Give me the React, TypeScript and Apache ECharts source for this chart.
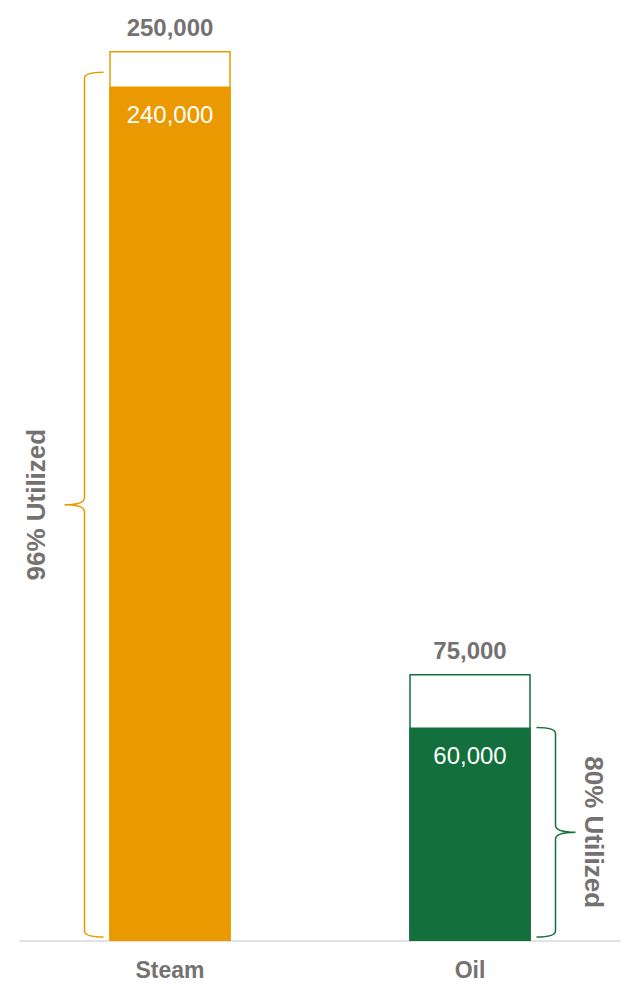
import React, { useEffect, useRef } from "react";
import * as echarts from "echarts";

const categories = ["Steam", "Oil"];
const capacity = [250000, 75000];
const utilized = [240000, 60000];
const bracketTop = [244000, 60000];
const utilizedText = ["96% Utilized", "80% Utilized"];
const colors = ["#EA9A00", "#13703C"];

const GRAY = "#767171";
const FONT = "'Liberation Sans', Arial, sans-serif";

export default function App() {
  const ref = useRef<HTMLDivElement>(null);
  useEffect(() => {
    if (!ref.current) return;
    const chart = echarts.init(ref.current, null, { renderer: "svg" });
    const fmt = (v: number) => v.toLocaleString("en-US");
    chart.setOption({
      animation: false,
      grid: { left: 20, right: 5, top: 51, bottom: 44, containLabel: false },
      xAxis: {
        type: "category",
        data: categories,
        axisLine: { show: true, lineStyle: { color: "#D9D9D9", width: 1.5 } },
        axisTick: { show: false },
        axisLabel: {
          color: GRAY,
          fontSize: 23,
          fontWeight: "bold",
          fontFamily: FONT,
          margin: 17,
        },
      },
      yAxis: {
        type: "value",
        min: 0,
        max: 250000,
        show: false,
        splitLine: { show: false },
      },
      series: [
        {
          type: "bar",
          barWidth: "40.5%",
          barGap: "-100%",
          z: 2,
          data: capacity.map((v, i) => ({
            value: v,
            itemStyle: { color: "#FFFFFF", borderColor: colors[i], borderWidth: 1.5 },
          })),
          label: {
            show: true,
            position: "top",
            distance: 12,
            color: GRAY,
            fontSize: 24,
            fontWeight: "bold",
            fontFamily: FONT,
            formatter: (p: any) => fmt(p.value),
          },
        },
        {
          type: "bar",
          barWidth: "40.5%",
          barGap: "-100%",
          z: 3,
          data: utilized.map((v, i) => ({
            value: v,
            itemStyle: { color: colors[i] },
          })),
          label: {
            show: true,
            position: "insideTop",
            distance: 16,
            color: "#FFFFFF",
            fontSize: 24,
            fontFamily: FONT,
            formatter: (p: any) => fmt(p.value),
          },
        },
        {
          type: "custom",
          clip: false,
          silent: true,
          z: 5,
          data: bracketTop.map((v, i) => [i, v]),
          renderItem: (params: any, api: any) => {
            const idx = params.dataIndex;
            const top = api.coord([idx, api.value(1)]);
            const base = api.coord([idx, 0]);
            const band = api.size([1, 0])[0];
            const side = idx === 0 ? -1 : 1;
            const x0 = base[0] + side * 0.285 * band;
            const hookX = x0 - side * 19;
            const tipX = x0 + side * 20;
            const topY = top[1];
            const botY = base[1] - 4;
            const mid = (topY + botY) / 2;
            const d =
              `M ${hookX} ${topY} Q ${x0} ${topY} ${x0} ${topY + 6} ` +
              `L ${x0} ${mid - 7} Q ${x0} ${mid} ${tipX} ${mid} ` +
              `Q ${x0} ${mid} ${x0} ${mid + 7} ` +
              `L ${x0} ${botY - 6} Q ${x0} ${botY} ${hookX} ${botY}`;
            const textX = x0 + side * (idx === 0 ? 49 : 38);
            return {
              type: "group",
              children: [
                {
                  type: "path",
                  shape: { pathData: d },
                  style: { stroke: colors[idx], fill: "none", lineWidth: 1.5 },
                },
                {
                  type: "text",
                  x: textX,
                  y: mid,
                  rotation: idx === 0 ? Math.PI / 2 : -Math.PI / 2,
                  style: {
                    text: utilizedText[idx],
                    fill: GRAY,
                    fontSize: 26,
                    fontWeight: "bold",
                    fontFamily: FONT,
                    align: "center",
                    verticalAlign: "middle",
                  },
                },
              ],
            };
          },
        },
      ],
    });
    return () => chart.dispose();
  }, []);
  return (
    <div
      ref={ref}
      style={{ position: "fixed", left: 0, top: 0, width: 625, height: 985, background: "#fff" }}
    />
  );
}
